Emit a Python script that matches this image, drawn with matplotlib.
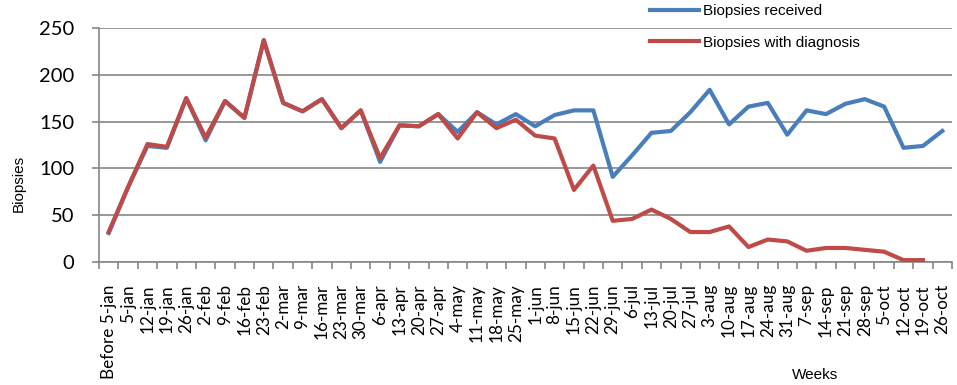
import matplotlib
matplotlib.use("Agg")
import matplotlib.pyplot as plt
import numpy as np

weeks = ["Before 5-jan", "5-jan", "12-jan", "19-jan", "26-jan", "2-feb", "9-feb", "16-feb",
         "23-feb", "2-mar", "9-mar", "16-mar", "23-mar", "30-mar", "6-apr", "13-apr",
         "20-apr", "27-apr", "4-may", "11-may", "18-may", "25-may", "1-jun", "8-jun",
         "15-jun", "22-jun", "29-jun", "6-jul", "13-jul", "20-jul", "27-jul", "3-aug",
         "10-aug", "17-aug", "24-aug", "31-aug", "7-sep", "14-sep", "21-sep", "28-sep",
         "5-oct", "12-oct", "19-oct", "26-oct"]

received = [31, 80, 124, 122, 175, 130, 172, 154, 237, 170, 161, 174, 143, 162, 107, 146,
            145, 158, 139, 160, 147, 158, 145, 157, 162, 162, 91, 114, 138, 140, 160, 184,
            147, 166, 170, 136, 162, 158, 169, 174, 166, 122, 124, 140]

diagnosis = [32, 80, 126, 123, 175, 133, 172, 154, 237, 170, 161, 174, 143, 162, 111, 146,
             145, 158, 132, 160, 143, 152, 135, 132, 77, 103, 44, 46, 56, 46, 32, 32,
             38, 16, 24, 22, 12, 15, 15, 13, 11, 2, 2, np.nan]

yticks = [0, 50, 100, 150, 200, 250]

W, H = 957, 385
fig = plt.figure(figsize=(W / 100, H / 100), dpi=100)
ax = fig.add_axes([99 / W, 1 - 262 / H, (952 - 99) / W, (262 - 28) / H])

x = np.arange(len(weeks))
blue = "#4A7EBB"
red = "#BE4B48"
grid_c = "#868686"

ax.plot(x, received, color=blue, lw=3.0, solid_joinstyle="round", label="Biopsies received", zorder=3)
ax.plot(x, diagnosis, color=red, lw=3.0, solid_joinstyle="round", label="Biopsies with diagnosis", zorder=4)

ax.set_xlim(-0.5, len(weeks) - 0.5)
ax.set_ylim(0, 250)
ax.set_yticks(yticks)
ax.set_yticklabels([str(v) for v in yticks], fontsize=14.5, family=["Lato", "DejaVu Sans"])
ax.yaxis.grid(True, color=grid_c, lw=1.2)
ax.set_axisbelow(True)

ax.set_xticks(x)
ax.set_xticklabels(weeks, rotation=90, ha="center", va="top", fontsize=12.3,
                   family=["Lato", "DejaVu Sans"])
ax.set_xticks(np.arange(len(weeks) + 1) - 0.5, minor=True)
ax.tick_params(axis="x", which="major", length=0, pad=16)
ax.tick_params(axis="x", which="minor", length=5, width=1.2, color=grid_c, direction="out")
ax.tick_params(axis="y", length=5, width=1.2, color=grid_c, direction="out", pad=13)

for s in ["top", "right"]:
    ax.spines[s].set_visible(False)
for s in ["left", "bottom"]:
    ax.spines[s].set_color(grid_c)
    ax.spines[s].set_linewidth(1.2)

sans = ["Liberation Sans", "DejaVu Sans"]
fig.text(19 / W, 1 - 183 / H, "Biopsies", rotation=90, ha="center", va="center",
         fontsize=11, family=sans)
fig.text(815 / W, 1 - 375 / H, "Weeks", ha="center", va="center", fontsize=11, family=sans)

leg = ax.legend(loc="upper left", bbox_to_anchor=(650 / W, 1 - 4 / H),
                bbox_transform=fig.transFigure, frameon=False, borderpad=0,
                borderaxespad=0, handlelength=3.2, handletextpad=0.25,
                labelspacing=1.15, prop={"family": sans, "size": 11})

fig.savefig("out.png", dpi=100)
